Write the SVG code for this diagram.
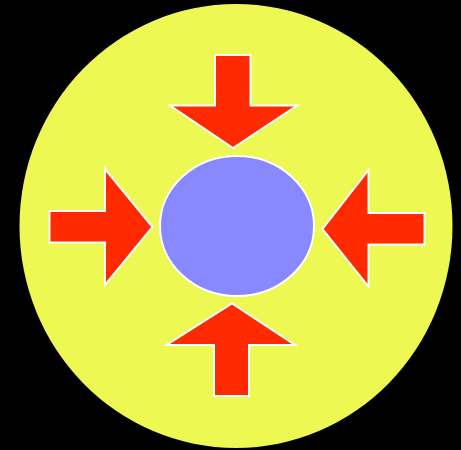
<svg xmlns="http://www.w3.org/2000/svg" width="461" height="450" viewBox="0 0 461 450">
<style>
.arrow{fill:#ff2a00;stroke:#ffffff;stroke-width:2;stroke-linejoin:miter}
</style>
<rect x="0" y="0" width="461" height="450" fill="#000000"/>
<g id="outer"><ellipse cx="236" cy="226" rx="216.5" ry="222" fill="#eef853"/></g>
<g id="center"><ellipse cx="237" cy="226" rx="77" ry="70" fill="#8888ff" stroke="#ffffff" stroke-width="2"/></g>
<g id="arrow-top"><polygon class="arrow" points="215,55 250.5,55 250.5,105.5 297,105.5 233,148 170,105.5 215,105.5"/></g>
<g id="arrow-left"><polygon class="arrow" points="49.5,211 105,211 105,169 152.5,227 105,285 105,242.5 49.5,242.5"/></g>
<g id="arrow-right"><polygon class="arrow" points="424.5,213 368.5,213 368.5,170 322.5,229 368.5,286.5 368.5,244.5 424.5,244.5"/></g>
<g id="arrow-bottom"><polygon class="arrow" points="214,396 249,396 249,345 295,345 232,303.5 166.5,345 214,345"/></g>
</svg>
